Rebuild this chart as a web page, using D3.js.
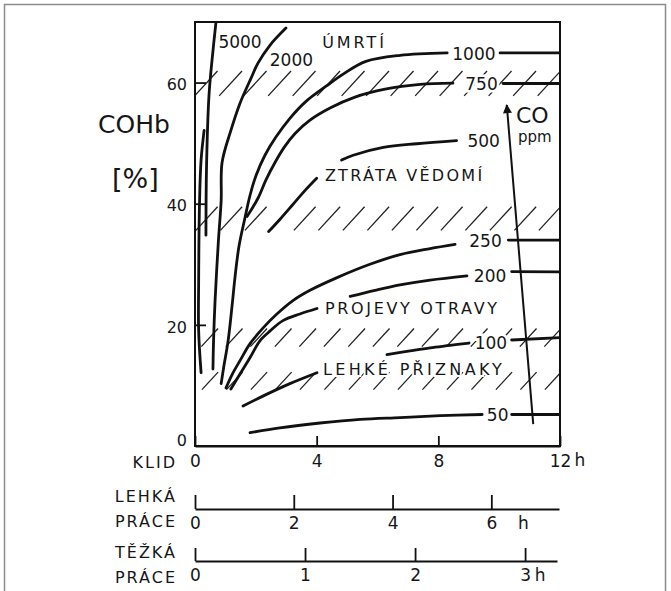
<!DOCTYPE html>
<html>
<head>
<meta charset="utf-8">
<script src="https://cdn.jsdelivr.net/npm/d3@7"></script>
<style>
  body { margin: 0; background: #fff; }
  svg { display: block; }
  text { font-family: "DejaVu Sans", sans-serif; fill: #161616; }
</style>
</head>
<body>
<div id="chart"></div>
<script>
// ----------------------------------------------------
// data: COHb [%] against exposure time [h] at rest
// ----------------------------------------------------
const restTicks  = [0, 4, 8, 12];
const lightTicks = [0, 2, 4, 6];
const heavyTicks = [0, 1, 2, 3];
const cohbTicks  = [0, 20, 40, 60];

// curves are drawn in pieces, broken where the labels sit
const ppm5000    = [[0.69,70.0],[0.56,63.7],[0.46,57.9],[0.38,46.3],[0.36,34.8]];
const ppm5000Low = [[0.20,12.1],[0.12,19.0],[0.12,27.3],[0.15,40.5],[0.20,47.2],[0.30,52.1]];
const ppm2000    = [[2.99,69.0],[2.47,66.2],[2.07,63.2],[1.84,60.7],[1.48,56.6],[1.18,52.1],
                    [0.89,46.8],[0.86,40.5],[0.77,33.9],[0.66,24.0],[0.61,17.4],[0.59,12.7]];
const ppm1000    = [[8.29,64.9],[6.74,64.5],[5.62,63.5],[4.87,61.4],[4.31,59.4],[3.65,56.9],
                    [3.12,54.1],[2.66,51.0],[2.30,48.0],[2.01,44.7],[1.81,41.4],[1.64,37.6],
                    [1.45,33.1],[1.32,28.1],[1.22,23.2],[1.09,17.4],[0.95,13.2],[0.86,10.3]];
const ppm1000Eq  = [[10.03,64.9],[12,64.9]];
const ppm750     = [[8.48,59.9],[7.40,59.7],[6.25,58.9],[5.26,57.6],[4.44,55.8],[3.78,53.8],
                    [3.29,51.6],[2.93,49.3],[2.63,46.8],[2.33,43.9],[2.07,40.9],[1.71,37.9]];
const ppm750Eq   = [[10.13,59.85],[12,59.85]];
const ppm500     = [[4.82,47.2],[5.20,48.0],[6.19,49.3],[7.29,49.9],[8.60,50.4]];
const ppm500Low  = [[4.00,44.2],[3.62,42.2],[3.19,39.7],[2.79,37.4],[2.42,35.4]];
const ppm250     = [[8.55,33.3],[7.73,32.6],[6.74,31.6],[5.75,30.0],[4.67,27.8],[3.78,25.7],
                    [3.22,24.0],[2.63,21.5],[2.24,19.5],[1.81,16.9],[1.48,14.1],[1.22,11.8],[1.02,9.6]];
const ppm250Eq   = [[10.30,34.0],[12,34.0]];
const ppm200     = [[5.10,24.7],[5.92,25.7],[6.74,26.6],[7.73,27.4],[8.94,28.1]];
const ppm200Low  = [[4.01,22.7],[3.45,21.8],[2.89,20.7],[2.47,19.0],[2.14,17.4],[1.81,14.6],[1.48,11.9],[1.18,9.4]];
const ppm200Eq   = [[10.41,28.8],[12,28.75]];
const ppm100     = [[6.31,15.1],[7.07,15.7],[7.73,16.2],[8.38,16.6],[9.01,17.0]];
const ppm100Low  = [[4.01,12.1],[3.12,10.3],[2.30,8.4],[1.58,6.6]];
const ppm100Eq   = [[10.41,17.5],[12,17.9]];
const ppm50      = [[1.81,2.2],[2.79,3.0],[4.11,3.8],[5.43,4.4],[6.74,4.7],[8.06,5.0],[9.44,5.2]];
const ppm50Eq    = [[10.41,5.2],[12,5.2]];

const ppmLabels = [
  {text: '5000', t: 1.48, v: 66.7}, {text: '2000', t: 3.17, v: 63.8},
  {text: '1000', t: 9.17, v: 64.8}, {text: '750',  t: 9.42, v: 59.85},
  {text: '500',  t: 9.49, v: 50.4}, {text: '250',  t: 9.55, v: 33.9},
  {text: '200',  t: 9.70, v: 28.1}, {text: '100',  t: 9.73, v: 17.1},
  {text: '50',   t: 9.95, v: 5.1}
];

// hatched threshold bands [from, to] in % COHb
const hatchBands = [[57.8, 61.9], [35.6, 39.5], [16.4, 19.4], [9.3, 12.2]];

const zones = [
  {text: 'ÚMRTÍ',          t0: 4.18, t1: 6.21,  v: 66.7},
  {text: 'ZTRÁTA VĚDOMÍ',  t0: 4.27, t1: 9.44,  v: 44.7},
  {text: 'PROJEVY OTRAVY', t0: 4.27, t1: 9.93,  v: 22.8},
  {text: 'LEHKÉ PŘIZNAKY', t0: 4.21, t1: 10.09, v: 12.7}
];

const coArrow = [[11.12, 3.6], [10.25, 56.3]];

// ----------------------------------------------------
// layout
// ----------------------------------------------------
const width = 671, height = 591;

const x = d3.scaleLinear().domain([0, 12]).range([195, 560]);
const y = d3.scaleLinear().domain([0, 70]).range([446, 22]);
const xLight = d3.scaleLinear().domain([0, 7.37]).range([195, 559]);
const xHeavy = d3.scaleLinear().domain([0, 3.29]).range([195, 557]);

const svg = d3.select('#chart').append('svg')
  .attr('width', width)
  .attr('height', height);

svg.append('rect')
  .attr('x', 4.5).attr('y', 4.5)
  .attr('width', 661).attr('height', 610)
  .attr('fill', 'none')
  .attr('stroke', '#8c8c8c')
  .attr('stroke-width', 1.5);

svg.append('defs').append('clipPath')
  .attr('id', 'plot-clip')
  .append('rect')
  .attr('x', x(0)).attr('y', y(70))
  .attr('width', x(12) - x(0)).attr('height', y(0) - y(70));

svg.select('defs').append('marker')
  .attr('id', 'arrow-head')
  .attr('viewBox', '0 0 10 10')
  .attr('refX', 9).attr('refY', 5)
  .attr('markerWidth', 11).attr('markerHeight', 9)
  .attr('markerUnits', 'userSpaceOnUse')
  .attr('orient', 'auto')
  .append('path')
  .attr('d', 'M0,0 L10,5 L0,10 Z')
  .attr('fill', '#111');

// hatching
const hatchGap = 24.5;
const hatch = svg.append('g')
  .attr('clip-path', 'url(#plot-clip)')
  .attr('stroke', '#222')
  .attr('stroke-width', 1.3);

hatchBands.forEach(b => {
  const top = y(b[1]), bottom = y(b[0]);
  const h = bottom - top;
  const starts = d3.range(x(0) - h, x(12), hatchGap);
  hatch.selectAll(null)
    .data(starts)
    .enter().append('line')
      .attr('x1', d => d)
      .attr('y1', bottom)
      .attr('x2', d => d + h * 0.92)
      .attr('y2', top);
});

// curves
const curveLine = d3.line()
  .x(d => x(d[0]))
  .y(d => y(d[1]))
  .curve(d3.curveCatmullRom.alpha(0.5));

const segments = [
  ppm5000, ppm5000Low, ppm2000, ppm1000, ppm1000Eq, ppm750, ppm750Eq,
  ppm500, ppm500Low, ppm250, ppm250Eq, ppm200, ppm200Low, ppm200Eq,
  ppm100, ppm100Low, ppm100Eq, ppm50, ppm50Eq
];

svg.append('g')
  .attr('clip-path', 'url(#plot-clip)')
  .attr('fill', 'none')
  .attr('stroke', '#111')
  .attr('stroke-width', 2.8)
  .attr('stroke-linecap', 'round')
.selectAll('path')
  .data(segments)
  .enter().append('path')
    .attr('d', curveLine);

// curve labels, with a white halo hiding the hatch behind
svg.append('g')
  .style('font-size', '17px')
  .attr('text-anchor', 'middle')
.selectAll('text')
  .data(ppmLabels)
  .enter().append('text')
    .attr('x', d => x(d.t))
    .attr('y', d => y(d.v))
    .attr('dy', '0.36em')
    .attr('stroke', '#fff')
    .attr('stroke-width', 5)
    .attr('paint-order', 'stroke')
    .text(d => d.text);

svg.append('g')
  .style('font-size', '16px')
.selectAll('text')
  .data(zones)
  .enter().append('text')
    .attr('x', d => x(d.t0))
    .attr('y', d => y(d.v))
    .attr('dy', '0.36em')
    .attr('textLength', d => x(d.t1) - x(d.t0))
    .attr('lengthAdjust', 'spacing')
    .attr('stroke', '#fff')
    .attr('stroke-width', 4)
    .attr('paint-order', 'stroke')
    .text(d => d.text);

// CO arrow
svg.append('line')
  .attr('x1', x(coArrow[0][0])).attr('y1', y(coArrow[0][1]))
  .attr('x2', x(coArrow[1][0])).attr('y2', y(coArrow[1][1]))
  .attr('stroke', '#111')
  .attr('stroke-width', 2)
  .attr('marker-end', 'url(#arrow-head)');

svg.append('text')
  .attr('x', 516).attr('y', 123)
  .style('font-size', '22px')
  .text('CO');
svg.append('text')
  .attr('x', 518).attr('y', 142)
  .style('font-size', '15px')
  .text('ppm');

// frame
svg.append('rect')
  .attr('x', x(0)).attr('y', y(70))
  .attr('width', x(12) - x(0)).attr('height', y(0) - y(70))
  .attr('fill', 'none')
  .attr('stroke', '#111')
  .attr('stroke-width', 2);

// axes
const styleAxis = (g, size) => {
  g.select('.domain').attr('stroke', '#111').attr('stroke-width', 2);
  g.selectAll('.tick line').attr('stroke', '#111').attr('stroke-width', 1.8);
  g.selectAll('.tick text').style('font-size', size).attr('fill', '#161616');
  g.attr('font-family', null).attr('font-size', null);
};

svg.append('g')
  .attr('transform', `translate(${x(0)},0)`)
  .call(d3.axisLeft(y).tickValues(cohbTicks).tickSize(-11).tickSizeOuter(0).tickPadding(8))
  .call(g => styleAxis(g, '16px'))
  .call(g => g.select('.domain').remove())
  .call(g => g.selectAll('.tick').filter(d => d === 0).select('line').remove())
  .call(g => g.selectAll('.tick text').attr('dy', d => d === 0 ? '-0.05em' : '0.45em'));

svg.append('g')
  .attr('transform', `translate(0,${y(0)})`)
  .call(d3.axisBottom(x).tickValues(restTicks).tickSize(-10).tickSizeOuter(0).tickPadding(9)
    .tickFormat(d3.format('d')))
  .call(g => styleAxis(g, '17px'));

svg.append('g')
  .attr('transform', 'translate(0,509)')
  .call(d3.axisBottom(xLight).tickValues(lightTicks).tickSize(-14).tickSizeOuter(0).tickPadding(8)
    .tickFormat(d3.format('d')))
  .call(g => styleAxis(g, '17px'));

svg.append('g')
  .attr('transform', 'translate(0,561)')
  .call(d3.axisBottom(xHeavy).tickValues(heavyTicks).tickSize(-13).tickSizeOuter(0).tickPadding(8)
    .tickFormat(d3.format('d')))
  .call(g => styleAxis(g, '17px'));

// unit marks
const hours = [
  {x: x(12) + 20, y: 460}, {x: xLight(6) + 32, y: 523}, {x: xHeavy(3) + 15, y: 575}
];
svg.append('g')
  .style('font-size', '17px')
  .attr('text-anchor', 'middle')
.selectAll('text')
  .data(hours)
  .enter().append('text')
    .attr('x', d => d.x)
    .attr('y', d => d.y)
    .attr('dy', '0.36em')
    .text('h');

// row titles
const rowTitles = [
  {text: 'KLID', y: 462}, {text: 'LEHKÁ', y: 496}, {text: 'PRÁCE', y: 521},
  {text: 'TĚŽKÁ', y: 552}, {text: 'PRÁCE', y: 577}
];
svg.append('g')
  .style('font-size', '16px')
  .style('letter-spacing', '2px')
  .attr('text-anchor', 'end')
.selectAll('text')
  .data(rowTitles)
  .enter().append('text')
    .attr('x', 177)
    .attr('y', d => d.y)
    .attr('dy', '0.36em')
    .text(d => d.text);

// y title
svg.append('text')
  .attr('x', 98).attr('y', 133)
  .style('font-size', '25px')
  .text('COHb');
svg.append('text')
  .attr('x', 112).attr('y', 188)
  .style('font-size', '27px')
  .text('[%]');
</script>
</body>
</html>
